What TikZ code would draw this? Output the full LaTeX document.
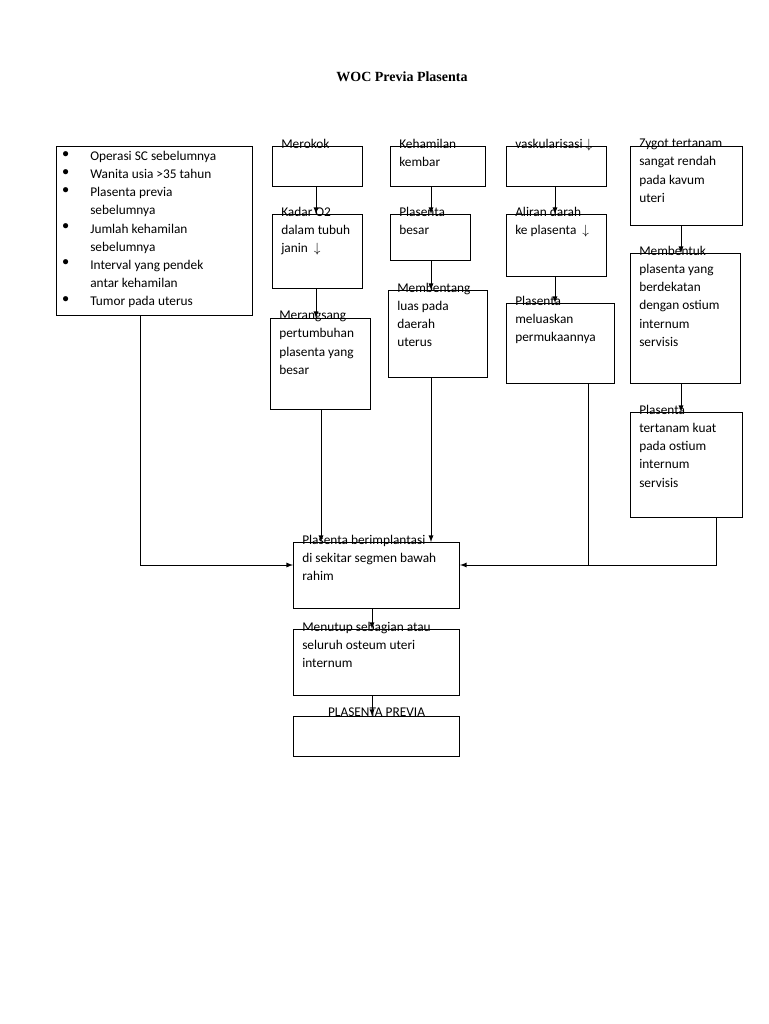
\documentclass[tikz,border=0pt]{standalone}
\usepackage{fontspec}
\setmainfont{Carlito}
\newfontfamily\titlefont{Liberation Serif}
\begin{document}
\begin{tikzpicture}[x=0.75pt,y=-0.75pt,
  box/.style={draw,line width=0.8pt,anchor=north west,inner sep=0pt},
  txt/.style={anchor=north west,align=left,inner sep=0pt,font=\fontsize{10}{13.6}\selectfont},
  arr/.style={-latex,line width=0.7pt},
  ln/.style={line width=0.7pt}]
\useasboundingbox (0,0) rectangle (768,1024);
\node[font=\titlefont\bfseries\fontsize{10.5}{12}\selectfont] (title) at (402,77) {WOC Previa Plasenta};
\newcommand{\bx}[6]{\node[box,minimum width=#3*0.75pt,minimum height=#4*0.75pt] (#1) at (#2) {};
  \node[txt] (#1t) at ([shift={(9,-7)}]#1.north west) {#6};}
% boxes
\bx{b1}{56,146}{196}{169}{}{}
\node[txt] (bl) at (62,151) {$\bullet$\\$\bullet$\\$\bullet$\\[13.6pt]$\bullet$\\[13.6pt]$\bullet$\\[13.6pt]$\bullet$};
\node[txt] (bt) at (90,151) {Operasi SC sebelumnya\\Wanita usia >35 tahun\\Plasenta previa\\sebelumnya\\Jumlah kehamilan\\sebelumnya\\Interval yang pendek\\antar kehamilan\\Tumor pada uterus};
\bx{mer}{272,146}{90}{40}{}{Merokok}
\bx{keh}{390,146}{95}{40}{}{Kehamilan\\kembar}
\bx{vas}{506,146}{100}{40}{}{vaskularisasi $\downarrow$}
\bx{zyg}{630,146}{112}{79}{}{Zygot tertanam\\sangat rendah\\pada kavum\\uteri}
\bx{kad}{272,214}{90}{74}{}{Kadar O2\\dalam tubuh\\janin \ $\downarrow$}
\bx{pb}{390,214}{80}{46}{}{Plasenta\\besar}
\bx{ali}{506,214}{100}{62}{}{Aliran darah\\ke plasenta \ $\downarrow$}
\bx{mbt}{630,253}{110}{130}{}{Membentuk\\plasenta yang\\berdekatan\\dengan ostium\\internum\\servisis}
\bx{mrg}{270,318}{100}{91}{}{Merangsang\\pertumbuhan\\plasenta yang\\besar}
\bx{mbg}{388,290}{99}{87}{}{Membentang\\luas pada\\daerah\\uterus}
\bx{mel}{506,303}{108}{80}{}{Plasenta\\meluaskan\\permukaannya}
\bx{ter}{630,412}{112}{105}{}{Plasenta\\tertanam kuat\\pada ostium\\internum\\servisis}
\bx{imp}{293,542}{166}{66}{}{Plasenta berimplantasi\\di sekitar segmen bawah\\rahim}
\bx{tut}{293,629}{166}{66}{}{Menutup sebagian atau\\seluruh osteum uteri\\internum}
\node[box,minimum width=124.5pt,minimum height=30pt] (pp) at (293,716) {};
\node[txt] (ppt) at ([shift={(0,-8)}]pp.north) [anchor=north] {PLASENTA PREVIA};
% arrows
\draw[arr] (mer.south -| 316,0) -- (kad.north -| 316,0);
\draw[arr] (kad.south -| 316,0) -- (mrg.north -| 316,0);
\draw[arr] (keh.south -| 431,0) -- (pb.north -| 431,0);
\draw[arr] (pb.south -| 431,0) -- (mbg.north -| 431,0);
\draw[arr] (vas.south -| 555,0) -- (ali.north -| 555,0);
\draw[arr] (ali.south -| 555,0) -- (mel.north -| 555,0);
\draw[arr] (zyg.south -| 681,0) -- (mbt.north -| 681,0);
\draw[arr] (mbt.south -| 681,0) -- (ter.north -| 681,0);
\draw[arr] (mrg.south -| 321,0) -- (imp.north -| 321,0);
\draw[arr] (mbg.south -| 431,0) -- (imp.north -| 431,0);
\coordinate (jl) at (140,565);
\coordinate (jr) at (716,565);
\draw[arr] (b1.south -| 140,0) -- (jl) -- (imp.west |- jl);
\draw[arr] (ter.south -| 716,0) -- (jr) -- (imp.east |- jr);
\draw[ln] (mel.south -| 588,0) -- (588,565);
\draw[arr] (imp.south -| 372,0) -- (tut.north -| 372,0);
\draw[arr] (tut.south -| 372,0) -- (pp.north -| 372,0);
\end{tikzpicture}
\end{document}
